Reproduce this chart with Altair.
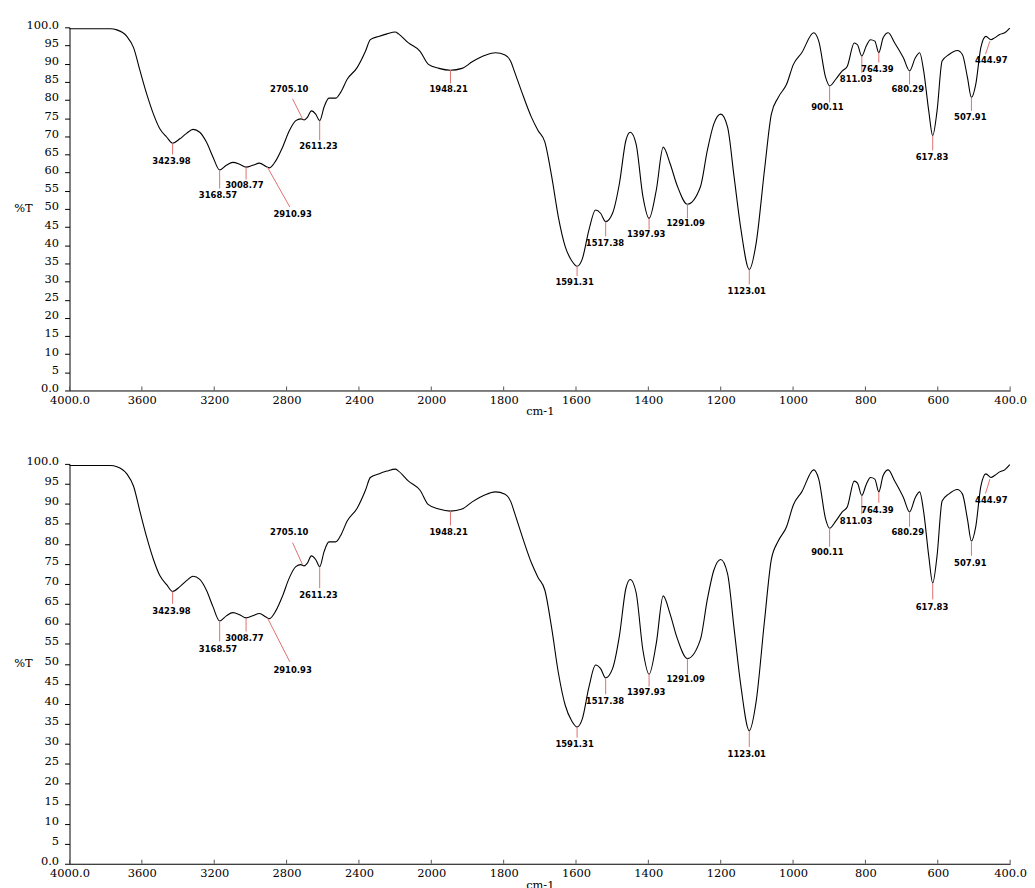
import altair as alt
import pandas as pd

# ---- spectrum ----
wavenumber = [4000, 3775, 3738, 3683, 3646, 3610, 3573, 3536, 3500, 3463, 3430, 3390, 3353, 3317,
              3280, 3243, 3207, 3170, 3133, 3097, 3060, 3024, 2987, 2950, 2914, 2895, 2859, 2822,
              2785, 2749, 2721, 2703, 2685, 2663, 2639, 2617, 2593, 2566, 2529, 2501, 2465, 2410,
              2364, 2337, 2291, 2245, 2199, 2181, 2126, 2062, 2016, 1979, 1947, 1915, 1887, 1851,
              1823, 1796, 1780, 1770, 1751, 1723, 1705, 1686, 1667, 1649, 1630, 1611, 1597, 1583,
              1564, 1546, 1532, 1518, 1499, 1480, 1462, 1450, 1434, 1415, 1398, 1378, 1359, 1340,
              1321, 1292, 1256, 1237, 1219, 1200, 1181, 1163, 1144, 1121, 1102, 1079, 1060, 1041,
              1018, 999, 976, 943, 929, 910, 899, 882, 864, 850, 831, 822, 810, 798, 786, 774, 763,
              751, 737, 719, 695, 678, 662, 650, 639, 625, 614, 602, 588, 569, 546, 532, 518, 507,
              495, 481, 467, 453, 443, 429, 415, 401]
transmittance = [99.6, 99.6, 99.3, 97.5, 94.4, 88.0, 81.6, 76.1, 72.0, 69.8, 68.1, 69.3, 70.8, 71.9,
                 71.1, 68.4, 64.3, 60.7, 62.0, 62.8, 62.3, 61.5, 62.0, 62.6, 61.7, 61.3, 63.3, 67.0,
                 71.5, 74.3, 74.8, 74.5, 75.2, 77.0, 76.1, 74.3, 78.0, 80.5, 80.5, 82.1, 85.7, 88.9,
                 93.4, 96.6, 97.5, 98.2, 98.7, 98.2, 95.7, 93.4, 89.8, 88.7, 88.2, 88.7, 90.5, 92.3,
                 93.0, 92.4, 90.5, 87.8, 82.5, 75.2, 71.6, 68.4, 58.8, 47.9, 39.7, 35.6, 34.2, 36.1,
                 44.3, 49.7, 48.8, 46.5, 48.8, 57.0, 68.9, 71.1, 67.9, 53.4, 47.4, 55.2, 67.0, 62.5,
                 56.6, 51.3, 56.1, 66.1, 73.4, 76.1, 72.5, 58.8, 44.3, 33.3, 40.6, 60.7, 76.1, 80.7,
                 84.3, 89.8, 93.0, 98.5, 96.2, 86.2, 83.9, 85.7, 88.0, 89.3, 95.7, 95.2, 92.1, 94.8,
                 96.6, 96.2, 93.0, 97.1, 98.5, 95.7, 91.6, 88.0, 91.6, 93.0, 88.0, 77.0, 70.2, 77.0,
                 90.7, 92.5, 93.6, 92.5, 86.2, 80.7, 84.3, 94.4, 97.5, 96.6, 97.1, 98.0, 98.5, 99.8]

# ---- peak annotations ----
peak_labels = ["3423.98", "3168.57", "3008.77", "2910.93", "2705.10", "2611.23", "1948.21",
               "1591.31", "1517.38", "1397.93", "1291.09", "1123.01", "900.11", "811.03",
               "764.39", "680.29", "617.83", "507.91", "444.97"]
peak_wn = [3430, 3170, 3024, 2906, 2712, 2617, 1947, 1597, 1518, 1398, 1292, 1121, 899, 810,
           763, 678, 614, 507, 456]
peak_t = [68.1, 60.7, 61.5, 61.5, 74.8, 74.3, 88.2, 34.2, 46.5, 47.4, 51.3, 33.3, 83.9, 92.1,
          93.0, 88.0, 70.2, 80.7, 96.2]
lead_wn = [3430, 3170, 3024, 2782, 2767, 2617, 1947, 1597, 1518, 1398, 1292, 1121, 899, 810,
           763, 678, 614, 507, 468]
lead_t = [65.0, 55.6, 58.1, 50.5, 80.3, 68.9, 84.6, 31.5, 42.4, 44.3, 47.4, 29.2, 79.3, 87.5,
          90.3, 84.3, 66.1, 77.0, 92.6]
text_wn = [3436, 3179, 3033, 2767, 2785, 2624, 1952, 1604, 1520, 1406, 1297, 1128, 905, 826,
           767, 683, 616, 510, 452]
text_t = [63.2, 53.8, 56.5, 48.5, 83.0, 67.2, 83.0, 30.0, 40.6, 43.0, 46.1, 27.4, 78.0, 85.7,
          88.4, 83.0, 64.3, 75.2, 91.0]

x_ticks = [4000, 3600, 3200, 2800, 2400, 2000, 1800, 1600, 1400, 1200, 1000, 800, 600, 400]
y_ticks = list(range(0, 101, 5))

spec = pd.DataFrame({"wn": wavenumber, "t": transmittance})
ann = pd.DataFrame({"label": peak_labels, "wn": peak_wn, "t": peak_t,
                    "wn2": lead_wn, "t2": lead_t, "lx": text_wn, "ly": text_t})
ticks_df = pd.DataFrame({"wn": x_ticks})

W = 948
FONT = "DejaVu Serif"


def panel(h):
    xs = alt.Scale(domain=[4000, 2000, 400], range=[0, W * 5 / 13, W], nice=False, zero=False)
    ys = alt.Scale(domain=[0, 100], nice=False, zero=False)
    xaxis = alt.Axis(values=x_ticks, title="cm-1", ticks=False, labelOverlap=False,
                     labelFlush=False, labelPadding=4, titlePadding=0, grid=False,
                     domainColor="black", labelFont=FONT, labelFontSize=11.5, titleFont=FONT,
                     titleFontSize=11.5, titleFontWeight="normal", labelColor="black",
                     titleColor="black",
                     labelExpr="datum.value == 4000 ? '4000.0' : datum.value == 400 ? '400.0' : '' + datum.value")
    yaxis = alt.Axis(values=y_ticks, tickCount=21, title="%T", titleAngle=0, titleX=-47,
                     titleY=h / 2, titleAlign="center", titleBaseline="middle", tickSize=5,
                     tickColor="black", labelPadding=6, grid=False, domainColor="black",
                     labelFont=FONT, labelFontSize=11.5, titleFont=FONT, titleFontSize=11.5,
                     titleFontWeight="normal", labelColor="black", titleColor="black",
                     labelOverlap=False, labelBaseline="alphabetic", labelOffset=1,
                     labelExpr="datum.value == 100 ? '100.0' : datum.value == 0 ? '0.0' : '' + datum.value")

    line = alt.Chart(spec).mark_line(color="black", strokeWidth=1.1, interpolate="monotone").encode(
        x=alt.X("wn:Q", scale=xs, axis=xaxis),
        y=alt.Y("t:Q", scale=ys, axis=yaxis),
    )
    leads = alt.Chart(ann).mark_rule(color="#e07070", strokeWidth=1).encode(
        x=alt.X("wn:Q", scale=xs, axis=xaxis), y=alt.Y("t:Q", scale=ys, axis=yaxis),
        x2="wn2:Q", y2="t2:Q",
    )
    texts = alt.Chart(ann).mark_text(font="DejaVu Sans", fontWeight="bold", fontSize=8.5,
                                     color="black", align="center", baseline="middle").encode(
        x=alt.X("lx:Q", scale=xs, axis=xaxis), y=alt.Y("ly:Q", scale=ys, axis=yaxis),
        text="label:N",
    )
    xt = alt.Chart(ticks_df).mark_rule(color="#555555", strokeWidth=1).encode(
        x=alt.X("wn:Q", scale=xs, axis=xaxis), y=alt.value(h), y2=alt.value(h - 4),
    )
    return alt.layer(line, leads, texts, xt).properties(width=W, height=h)


chart = alt.vconcat(panel(366), panel(403), spacing=39).resolve_scale(
    x="independent", y="independent"
).properties(
    padding={"left": 5, "top": 8, "right": 0, "bottom": 0},
    background="white",
).configure_view(stroke=None)

chart.save("out.html", embed_options={"renderer": "svg", "actions": False})
